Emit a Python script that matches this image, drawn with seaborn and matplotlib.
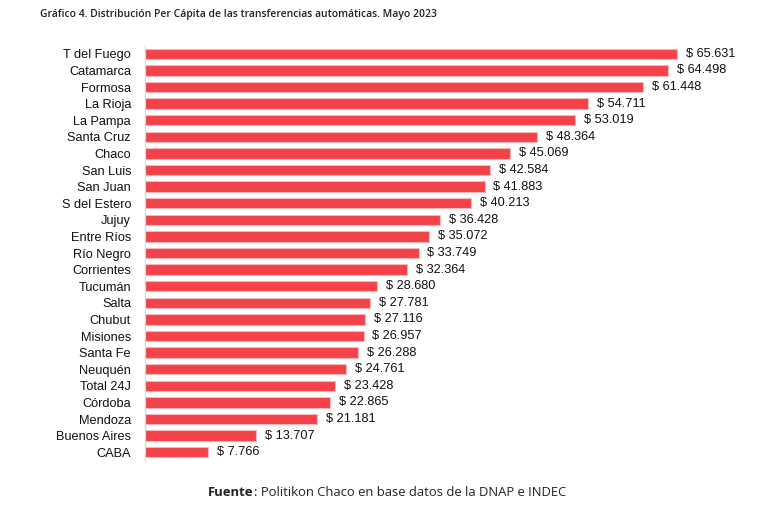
import matplotlib
matplotlib.use("Agg")
import matplotlib.pyplot as plt
import seaborn as sns
import pandas as pd

provincias = ["T del Fuego", "Catamarca", "Formosa", "La Rioja", "La Pampa", "Santa Cruz",
              "Chaco", "San Luis", "San Juan", "S del Estero", "Jujuy", "Entre Ríos",
              "Río Negro", "Corrientes", "Tucumán", "Salta", "Chubut", "Misiones",
              "Santa Fe", "Neuquén", "Total 24J", "Córdoba", "Mendoza", "Buenos Aires", "CABA"]
valores = [65631, 64498, 61448, 54711, 53019, 48364, 45069, 42584, 41883, 40213, 36428,
           35072, 33749, 32364, 28680, 27781, 27116, 26957, 26288, 24761, 23428, 22865,
           21181, 13707, 7766]

df = pd.DataFrame({"prov": provincias, "valor": valores})

sns.set_theme(style="white")
plt.rcParams['font.family'] = ['Liberation Sans', 'DejaVu Sans']

fig = plt.figure(figsize=(7.72, 5.09), dpi=100)
ax = fig.add_axes([145/772, 1 - 460.5/509, 615/772, 415/509])

sns.barplot(data=df, x="valor", y="prov", ax=ax, color="#f4424a", saturation=1,
            width=0.62, edgecolor="#f5b8b8", linewidth=0.8, orient="h")

ax.set_xlim(0, 75870)
ax.set_xlabel("")
ax.set_ylabel("")
ax.set_xticks([])
for s in ["top", "right", "bottom"]:
    ax.spines[s].set_visible(False)
ax.spines["left"].set_color("#d8d8d8")
ax.spines["left"].set_linewidth(0.8)
ax.tick_params(axis="y", length=0, pad=10, labelsize=9.2, labelcolor="#111111")

for i, v in enumerate(valores):
    ax.text(v + 1100, i, "$ " + f"{v:,}".replace(",", "."), va="center", ha="left",
            fontsize=9.2, color="#111111")

fig.text(40/772, 1 - 14/509, "Gráfico 4. Distribución Per Cápita de las transferencias automáticas. Mayo 2023",
         family=["Open Sans", "DejaVu Sans"], fontweight="semibold", fontsize=7.5,
         ha="left", va="center", color="#222222")

t1 = fig.text(208/772, 1 - 493/509, "Fuente", family=["Open Sans", "DejaVu Sans"], fontweight="bold",
              fontsize=9.4, ha="left", va="center", color="#222222")
fig.canvas.draw()
bb = t1.get_window_extent(renderer=fig.canvas.get_renderer())
fig.text(bb.x1 / fig.bbox.width, 1 - 493/509, ": Politikon Chaco en base datos de la DNAP e INDEC",
         family=["Open Sans", "DejaVu Sans"], fontsize=9.4, ha="left", va="center", color="#222222")

fig.savefig("out.png", dpi=100)
